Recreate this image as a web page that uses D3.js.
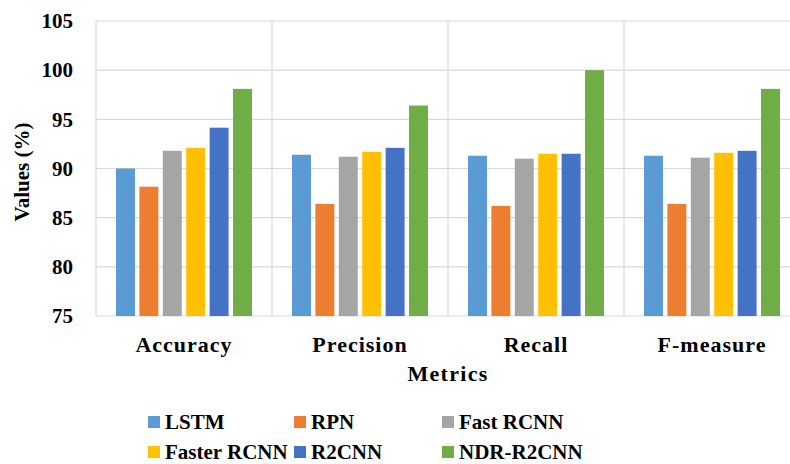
<!DOCTYPE html>
<html><head><meta charset="utf-8">
<script src="https://cdn.jsdelivr.net/npm/d3@7"></script>
<style>body{margin:0;background:#fff}svg{display:block}text{font-family:"Liberation Serif","Times New Roman",serif;font-weight:bold;fill:#000}</style>
</head><body>
<svg id="c" width="790" height="464"></svg>
<script>
const categories = ["Accuracy", "Precision", "Recall", "F-measure"];
const seriesNames = ["LSTM", "RPN", "Fast RCNN", "Faster RCNN", "R2CNN", "NDR-R2CNN"];
const LSTM = [90.0, 91.4, 91.3, 91.3];
const RPN = [88.15, 86.4, 86.2, 86.4];
const FastRCNN = [91.8, 91.2, 91.0, 91.1];
const FasterRCNN = [92.1, 91.7, 91.5, 91.6];
const R2CNN = [94.15, 92.1, 91.5, 91.8];
const NDR_R2CNN = [98.1, 96.4, 100.0, 98.1];
const yTicks = [75, 80, 85, 90, 95, 100, 105];
const colors = ["#5B9BD5", "#ED7D31", "#A5A5A5", "#FFC000", "#4472C4", "#70AD47"];

const seriesValues = [LSTM, RPN, FastRCNN, FasterRCNN, R2CNN, NDR_R2CNN];
const svg = d3.select("#c");
const L = 96, R = 800, T = 21, B = 316;
const x0 = d3.scaleBand().domain(categories).range([L, R]).padding(0);
const x1 = d3.scaleBand().domain(seriesNames).range([20, x0.bandwidth() - 20]).paddingInner(0.19).paddingOuter(0);
const y = d3.scaleLinear().domain([75, 105]).range([B, T]);

svg.append("g").selectAll("line").data(yTicks).join("line")
  .attr("x1", L).attr("x2", R).attr("y1", d => y(d)).attr("y2", d => y(d))
  .attr("stroke", "#d9d9d9").attr("stroke-width", 1.2);
const seps = categories.map(c => x0(c)).concat([R]);
svg.append("g").selectAll("line").data(seps).join("line")
  .attr("x1", d => d).attr("x2", d => d).attr("y1", T).attr("y2", B)
  .attr("stroke", "#d9d9d9").attr("stroke-width", 1.2);

const g = svg.append("g");
categories.forEach((c, ci) => {
  g.append("g").attr("transform", `translate(${x0(c)},0)`)
    .selectAll("rect").data(seriesNames).join("rect")
    .attr("x", s => x1(s)).attr("width", x1.bandwidth())
    .attr("y", (s, si) => y(seriesValues[si][ci]))
    .attr("height", (s, si) => B - y(seriesValues[si][ci]))
    .attr("fill", (s, si) => colors[si]);
});

const yAxis = d3.axisLeft(y).tickValues(yTicks).tickSize(0).tickPadding(23);
const ya = svg.append("g").attr("transform", `translate(${L},0)`).call(yAxis);
ya.select(".domain").remove();
ya.selectAll("text").attr("font-size", 21).attr("font-family", "Liberation Serif, serif").attr("font-weight", "bold").attr("fill", "#000");

const xAxis = d3.axisBottom(x0).tickSize(0).tickPadding(20);
const xa = svg.append("g").attr("transform", `translate(0,${B})`).call(xAxis);
xa.select(".domain").remove();
xa.selectAll("text").attr("font-size", 22).attr("font-family", "Liberation Serif, serif").attr("font-weight", "bold").attr("fill", "#000").attr("letter-spacing", 1);

svg.append("text").attr("x", 448).attr("y", 381).attr("text-anchor", "middle").attr("font-size", 22).attr("letter-spacing", 1.3).text("Metrics");
svg.append("text").attr("transform", "translate(29,172) rotate(-90)").attr("text-anchor", "middle").attr("font-size", 21).text("Values (%)");

const legX = [148, 294, 442];
const legY = [422, 452];
const lg = svg.append("g");
seriesNames.forEach((s, i) => {
  const cx = legX[i % 3], cy = legY[Math.floor(i / 3)];
  lg.append("rect").attr("x", cx).attr("y", cy - 6).attr("width", 12).attr("height", 12).attr("fill", colors[i]);
  lg.append("text").attr("x", cx + 17).attr("y", cy + 6.5).attr("font-size", 21).text(s);
});
</script>
</body></html>
